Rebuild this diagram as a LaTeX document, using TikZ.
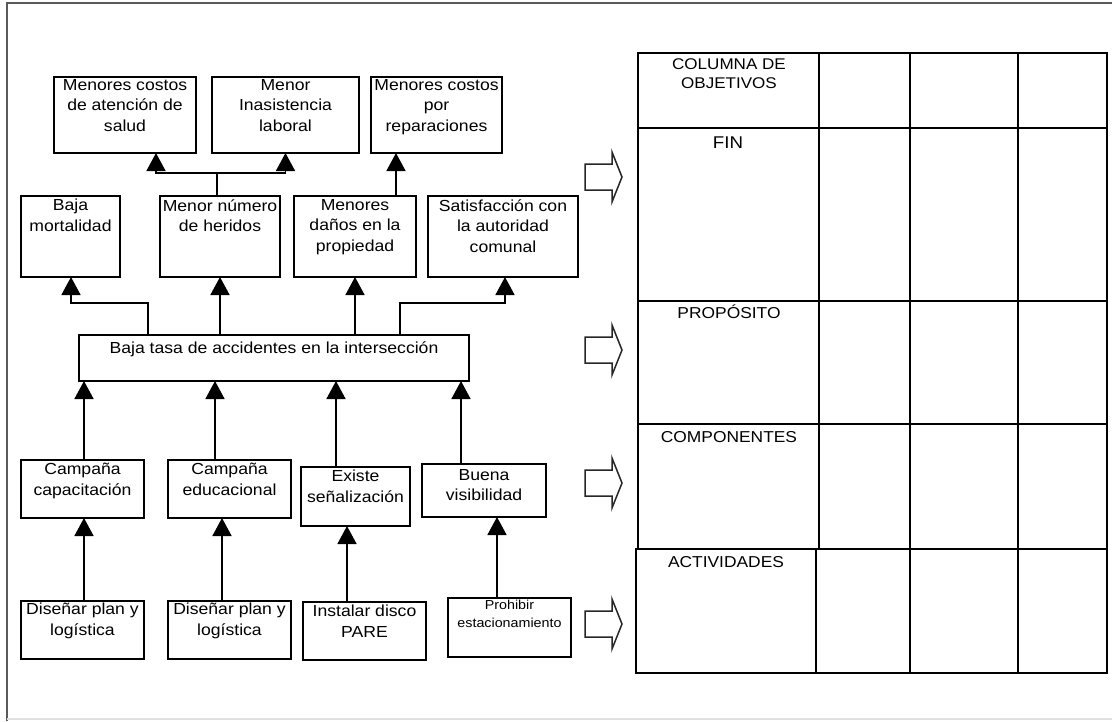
\documentclass[tikz,border=0pt]{standalone}
\usepackage{fontspec}
\setmainfont{Liberation Sans}[FakeStretch=1.1]
\usetikzlibrary{arrows.meta,calc}
\newcommand{\mkbox}[5]{%
  \node[bxs, minimum width={(#4-#2)*1pt}, minimum height={(#5-#3)*1pt}] (#1) at ({(#2+#4)/2},{(#3+#5)/2}) {};}
\newcommand{\blkarr}[2]{%
  \draw[blk] (585,{#2-13}) -- (612,{#2-13}) -- (612,{#2-25}) -- (622,#2) -- (612,{#2+25}) -- (612,{#2+13}) -- (585,{#2+13}) -- cycle;}
\begin{document}
\begin{tikzpicture}[x=1pt,y=-1pt,
  bxs/.style={draw, line width=1.7pt, inner sep=0pt, outer sep=0pt},
  tt/.style={anchor=north, inner sep=0pt, align=center, font=\fontsize{16}{20.5}\selectfont, execute at begin node=\strut},
  ts/.style={anchor=north, inner sep=0pt, align=center, font=\fontsize{13}{18}\selectfont, execute at begin node=\strut},
  th/.style={anchor=base, inner sep=0pt, font=\fontsize{15.8}{19}\selectfont},
  arr/.style={line width=1.6pt, -{Triangle[width=19pt,length=18pt]}},
  blk/.style={line width=1.5pt, draw=black!85, line join=miter},
  tbl/.style={line width=1.8pt, line cap=rect}]
\useasboundingbox (0,0) rectangle (1112,721);
% outer frame
\draw[line width=2pt, black!65] (7,721) -- (7,3) -- (1112,3);
\draw[line width=1.5pt, black!12] (7,719) -- (1112,719);

% top row
\mkbox{A}{54}{77}{196}{153}
\mkbox{B}{212}{77}{359}{153}
\mkbox{C}{371}{77}{502}{153}
\node[tt] (At) at (125,{93.5-14.35}) {Menores costos\\de atención de\\salud};
\node[tt] (Bt) at (285.5,{93.5-14.35}) {Menor\\Inasistencia\\laboral};
\node[tt] (Ct) at (436.5,{93.5-14.35}) {Menores costos\\por\\reparaciones};

% second row
\mkbox{D}{21}{196}{120}{277}
\mkbox{E}{160}{196}{280}{277}
\mkbox{F}{294}{196}{416}{277}
\mkbox{G}{428}{196}{578}{277}
\node[tt] (Dt) at (70.5,{213.5-14.35}) {Baja\\mortalidad};
\node[tt] (Et) at (220,{213.5-14.35}) {Menor número\\de heridos};
\node[tt] (Ft) at (355,{213.5-14.35}) {Menores\\daños en la\\propiedad};
\node[tt] (Gt) at (503,{213.5-14.35}) {Satisfacción con\\la autoridad\\comunal};

% central box
\mkbox{H}{79}{335}{469}{381}
\node[tt] (Ht) at (274,{353.5-14.35}) {Baja tasa de accidentes en la intersección};

% third row
\mkbox{I}{21}{460}{144}{518}
\mkbox{J}{168}{460}{291}{518}
\mkbox{K}{301}{467}{410}{526}
\mkbox{L}{422}{464}{546}{517}
\node[tt] (It) at (82.5,{477.5-14.35}) {Campaña\\capacitación};
\node[tt] (Jt) at (229.5,{477.5-14.35}) {Campaña\\educacional};
\node[tt] (Kt) at (355.5,{484.5-14.35}) {Existe\\señalización};
\node[tt] (Lt) at (484,{483.5-14.35}) {Buena\\visibilidad};

% fourth row
\mkbox{M}{21}{601}{144}{659}
\mkbox{N}{168}{601}{291}{659}
\mkbox{O}{303}{602}{426}{660}
\mkbox{P}{448}{598}{571}{657}
\node[tt] (Mt) at (82.5,{617.5-14.35}) {Diseñar plan y\\logística};
\node[tt] (Nt) at (229.5,{617.5-14.35}) {Diseñar plan y\\logística};
\node[tt] (Ot) at (364.5,{619.5-14.35}) {Instalar disco\\PARE};
\node[ts] (Pt) at (509.5,{612.5-12.6}) {Prohibir\\estacionamiento};

% connectors: second row -> top row
\coordinate (jtop) at (217,173);
\coordinate (xa) at (156,173);
\coordinate (xc) at (396,0);
\draw[line width=1.6pt] (E.north -| jtop) -- (jtop);
\draw[arr] (jtop) -- (xa) -- (A.south -| xa);
\draw[arr] (jtop) -- (B.south |- jtop) -- (B.south);
\draw[arr] (F.north -| xc) -- (C.south -| xc);

% connectors: central -> second row
\coordinate (hd) at (148,303);
\coordinate (hd2) at (71,303);
\coordinate (hg) at (400,303);
\coordinate (hg2) at (505,303);
\draw[arr] (H.north -| hd) -- (hd) -- (hd2) -- (D.south -| hd2);
\draw[arr] (H.north -| E.south) -- (E.south);
\draw[arr] (H.north -| F.south) -- (F.south);
\draw[arr] (H.north -| hg) -- (hg) -- (hg2) -- (G.south -| hg2);

% connectors: third row -> central
\coordinate (c1) at (84,0);
\coordinate (c2) at (215,0);
\coordinate (c3) at (336,0);
\coordinate (c4) at (461,0);
\draw[arr] (I.north -| c1) -- (H.south -| c1);
\draw[arr] (J.north -| c2) -- (H.south -| c2);
\draw[arr] (K.north -| c3) -- (H.south -| c3);
\draw[arr] (L.north -| c4) -- (H.south -| c4);

% connectors: fourth row -> third row
\coordinate (d1) at (84,0);
\coordinate (d2) at (222,0);
\coordinate (d3) at (347,0);
\coordinate (d4) at (497,0);
\draw[arr] (M.north -| d1) -- (I.south -| d1);
\draw[arr] (N.north -| d2) -- (J.south -| d2);
\draw[arr] (O.north -| d3) -- (K.south -| d3);
\draw[arr] (P.north -| d4) -- (L.south -| d4);

% block arrows
\blkarr{1}{177}
\blkarr{2}{350}
\blkarr{3}{483}
\blkarr{4}{624}

% table
\draw[tbl] (638,53) -- (1107,53);
\draw[tbl] (638,128) -- (1107,128);
\draw[tbl] (638,301) -- (1107,301);
\draw[tbl] (638,424) -- (1107,424);
\draw[tbl] (636,549) -- (1107,549);
\draw[tbl] (636,673) -- (1107,673);
\draw[tbl] (638,53) -- (638,549);
\draw[tbl] (636,549) -- (636,673);
\draw[tbl] (819,53) -- (819,549);
\draw[tbl] (816,549) -- (816,673);
\draw[tbl] (910,53) -- (910,673);
\draw[tbl] (1018,53) -- (1018,673);
\draw[tbl] (1107,53) -- (1107,673);

\node[anchor=north, inner sep=0pt, align=center, font=\fontsize{15.5}{19}\selectfont, execute at begin node=\strut] (T0) at (729,{71.5-13.3}) {COLUMNA DE\\OBJETIVOS};
\node[th, font=\fontsize{17}{20}\selectfont] (T1) at (728,148) {FIN};
\node[th] (T2) at (729,318.5) {PROPÓSITO};
\node[th] (T3) at (729,442.5) {COMPONENTES};
\node[th] (T4) at (726,567.5) {ACTIVIDADES};
\end{tikzpicture}
\end{document}
